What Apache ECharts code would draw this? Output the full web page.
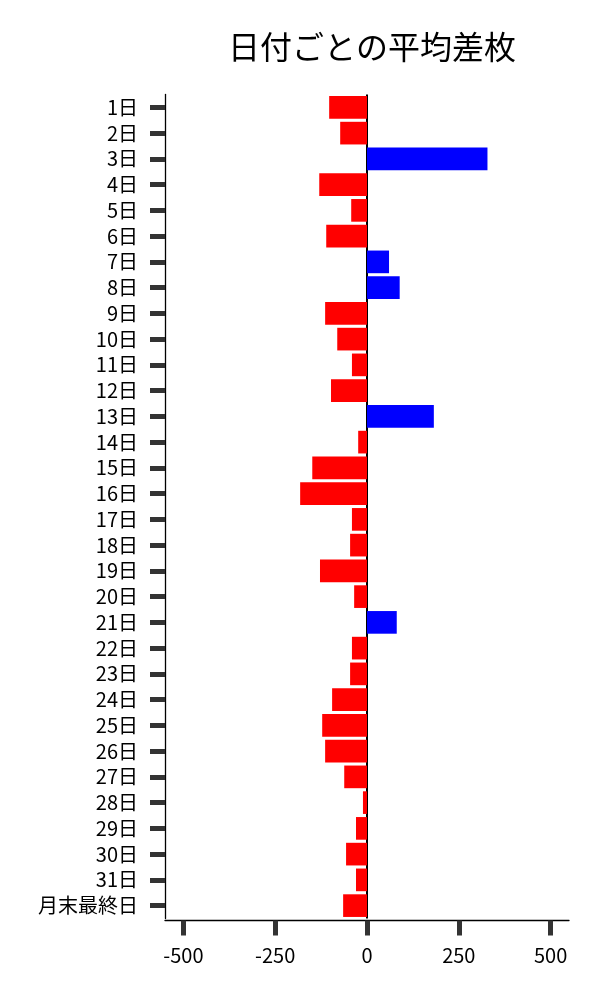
<!DOCTYPE html>
<html>
<head>
<meta charset="utf-8">
<script src="https://cdn.jsdelivr.net/npm/echarts@6/dist/echarts.min.js"></script>
<style>
  html, body { margin: 0; padding: 0; background: #fff; }
  #main { width: 600px; height: 1000px; }
</style>
</head>
<body>
<div id="main"></div>
<script>
// 日付ラベル
var days = ['1日','2日','3日','4日','5日','6日','7日','8日','9日','10日',
  '11日','12日','13日','14日','15日','16日','17日','18日','19日','20日',
  '21日','22日','23日','24日','25日','26日','27日','28日','29日','30日',
  '31日','月末最終日'];
// 平均差枚
var avgDiff = [-103, -73, 328, -130, -43, -111, 60, 89, -114, -81,
  -41, -98, 182, -24, -149, -182, -41, -46, -128, -35,
  81, -41, -46, -95, -122, -114, -62, -11, -30, -57,
  -30, -65];
// x軸の目盛り
var xTicks = [-500, -250, 0, 250, 500];

var chart = echarts.init(document.getElementById('main'));
var font = '"Noto Sans CJK JP", "Noto Sans", sans-serif';

var option = {
  backgroundColor: '#fff',
  animation: false,
  title: {
    text: '日付ごとの平均差枚',
    left: 367,
    textAlign: 'center',
    top: 26,
    textStyle: { fontFamily: font, fontSize: 32, fontWeight: 'normal', color: '#000' }
  },
  grid: { left: 165, right: 31, top: 94.5, bottom: 81.5, containLabel: false },
  xAxis: {
    type: 'value',
    min: -550,
    max: 550,
    offset: 2,
    axisLine: { show: true, onZero: false, lineStyle: { color: '#000', width: 1.3 } },
    axisTick: { show: true, length: 15, customValues: xTicks, lineStyle: { color: '#333', width: 5 } },
    axisLabel: { customValues: xTicks, margin: 25, fontFamily: font, fontSize: 20, color: '#000' },
    splitLine: { show: false }
  },
  yAxis: {
    type: 'category',
    data: days,
    inverse: true,
    axisLine: { show: true, onZero: false, lineStyle: { color: '#000', width: 1.3 } },
    axisTick: { show: true, interval: 0, alignWithLabel: true, length: 15, lineStyle: { color: '#333', width: 5 } },
    axisLabel: { interval: 0, margin: 27, fontFamily: font, fontSize: 20, color: '#000' }
  },
  series: [{
    type: 'bar',
    data: avgDiff,
    barCategoryGap: '12%',
    z: 3,
    itemStyle: {
      color: function (p) { return p.value < 0 ? '#ff0000' : '#0000ff'; }
    },
    markLine: {
      silent: true,
      symbol: 'none',
      z: 1,
      label: { show: false },
      lineStyle: { color: '#000', width: 2, type: 'solid' },
      data: [{ xAxis: 0 }]
    }
  }]
};

chart.setOption(option);
</script>
</body>
</html>
